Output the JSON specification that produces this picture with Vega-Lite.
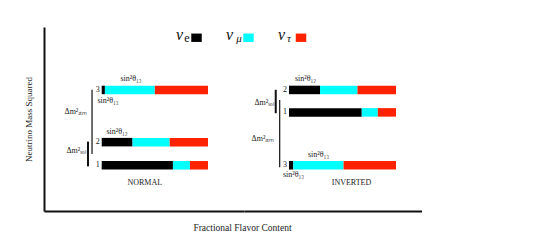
{
  "$schema": "https://vega.github.io/schema/vega-lite/v6.json",
  "padding": {"left": 24, "top": 27, "right": 0, "bottom": 0},
  "bounds": "flush",
  "spacing": 0,
  "config": {
    "view": {"stroke": null},
    "font": "Liberation Serif",
    "text": {"font": "Liberation Serif", "fontSize": 8, "color": "#222"}
  },
  "datasets": {
    "bars": [
      {"h": "NORMAL", "state": "3", "m2": 0.667, "flavor": "e", "frac": 0.03},
      {"h": "NORMAL", "state": "3", "m2": 0.667, "flavor": "mu", "frac": 0.47},
      {"h": "NORMAL", "state": "3", "m2": 0.667, "flavor": "tau", "frac": 0.5},
      {"h": "NORMAL", "state": "2", "m2": 0.367, "flavor": "e", "frac": 0.29},
      {"h": "NORMAL", "state": "2", "m2": 0.367, "flavor": "mu", "frac": 0.35},
      {"h": "NORMAL", "state": "2", "m2": 0.367, "flavor": "tau", "frac": 0.36},
      {"h": "NORMAL", "state": "1", "m2": 0.234, "flavor": "e", "frac": 0.67},
      {"h": "NORMAL", "state": "1", "m2": 0.234, "flavor": "mu", "frac": 0.16},
      {"h": "NORMAL", "state": "1", "m2": 0.234, "flavor": "tau", "frac": 0.17},
      {"h": "INVERTED", "state": "2", "m2": 0.667, "flavor": "e", "frac": 0.29},
      {"h": "INVERTED", "state": "2", "m2": 0.667, "flavor": "mu", "frac": 0.35},
      {"h": "INVERTED", "state": "2", "m2": 0.667, "flavor": "tau", "frac": 0.36},
      {"h": "INVERTED", "state": "1", "m2": 0.538, "flavor": "e", "frac": 0.68},
      {"h": "INVERTED", "state": "1", "m2": 0.538, "flavor": "mu", "frac": 0.15},
      {"h": "INVERTED", "state": "1", "m2": 0.538, "flavor": "tau", "frac": 0.17},
      {"h": "INVERTED", "state": "3", "m2": 0.234, "flavor": "e", "frac": 0.04},
      {"h": "INVERTED", "state": "3", "m2": 0.234, "flavor": "mu", "frac": 0.47},
      {"h": "INVERTED", "state": "3", "m2": 0.234, "flavor": "tau", "frac": 0.49}
    ],
    "ann": [
      {"h": "NORMAL", "label": "sin²θ₁₃", "x": 0.276, "y": 0.728},
      {"h": "NORMAL", "label": "sin²θ₁₃", "x": 0.06, "y": 0.603},
      {"h": "NORMAL", "label": "sin²θ₁₂", "x": 0.144, "y": 0.424},
      {"h": "NORMAL", "label": "Δm²ₐₜₘ", "x": -0.242, "y": 0.538},
      {"h": "NORMAL", "label": "Δm²ₛₒₗ", "x": -0.242, "y": 0.315},
      {"h": "NORMAL", "label": "NORMAL", "x": 0.405, "y": 0.13},
      {"h": "INVERTED", "label": "sin²θ₁₂", "x": 0.154, "y": 0.728},
      {"h": "INVERTED", "label": "Δm²ₛₒₗ", "x": -0.234, "y": 0.592},
      {"h": "INVERTED", "label": "Δm²ₐₜₘ", "x": -0.243, "y": 0.386},
      {"h": "INVERTED", "label": "sin²θ₁₃", "x": 0.276, "y": 0.293},
      {"h": "INVERTED", "label": "sin²θ₁₃", "x": 0.042, "y": 0.179},
      {"h": "INVERTED", "label": "INVERTED", "x": 0.584, "y": 0.13}
    ],
    "brackets": [
      {"h": "NORMAL", "kind": "atm", "x": -0.091, "y": 0.668, "y2": 0.299},
      {"h": "NORMAL", "kind": "sol", "x": -0.129, "y": 0.37, "y2": 0.228},
      {"h": "INVERTED", "kind": "sol", "x": -0.124, "y": 0.668, "y2": 0.533},
      {"h": "INVERTED", "kind": "atm", "x": -0.087, "y": 0.609, "y2": 0.223}
    ],
    "legSq": [
      {"flavor": "e", "x": 0.892, "y": 0.967},
      {"flavor": "mu", "x": 1.381, "y": 0.967},
      {"flavor": "tau", "x": 1.875, "y": 0.967}
    ],
    "legNu": [
      {"label": "ν", "x": 0.699, "y": 0.954},
      {"label": "ν", "x": 1.169, "y": 0.954},
      {"label": "ν", "x": 1.659, "y": 0.954}
    ],
    "legSub": [
      {"label": "e", "style": "normal", "x": 0.776, "y": 0.943},
      {"label": "μ", "style": "italic", "x": 1.266, "y": 0.943},
      {"label": "τ", "style": "italic", "x": 1.743, "y": 0.943}
    ]
  },
  "hconcat": [
    {
      "width": 200,
      "height": 184,
      "layer": [
        {
          "data": {"name": "bars"},
          "transform": [
            {"filter": "datum.h === 'NORMAL'"},
            {"stack": "frac", "groupby": ["state"], "sort": [{"field": "flavor"}], "as": ["x0", "x1"]}
          ],
          "mark": {"type": "bar", "size": 8.5},
          "encoding": {
            "x": {
              "field": "x0", "type": "quantitative",
              "scale": {"domain": [-0.5428, 1.3387], "nice": false, "zero": false},
              "axis": {
                "domain": true, "domainColor": "#111", "domainWidth": 2,
                "ticks": false, "labels": false, "grid": false,
                "title": "Fractional Flavor Content",
                "titleFont": "Liberation Serif", "titleFontSize": 9.5, "titleFontWeight": "normal",
                "titleColor": "#222", "titleX": 198, "titleY": 11, "titleAlign": "center", "titleBaseline": "top"
              }
            },
            "x2": {"field": "x1"},
            "y": {
              "field": "m2", "type": "quantitative",
              "scale": {"domain": [0, 1], "nice": false, "zero": false},
              "axis": {
                "domain": true, "domainColor": "#111", "domainWidth": 2,
                "ticks": false, "labels": false, "grid": false,
                "title": "Neutrino Mass Squared",
                "titleFont": "Liberation Serif", "titleFontSize": 9, "titleFontWeight": "normal",
                "titleColor": "#222", "titlePadding": 11
              }
            },
            "color": {
              "field": "flavor", "type": "nominal",
              "scale": {"domain": ["e", "mu", "tau"], "range": ["#000000", "#00FFFF", "#FF2200"]},
              "legend": null
            }
          }
        },
        {
          "data": {"name": "bars"},
          "transform": [{"filter": "datum.h === 'NORMAL' && datum.flavor === 'e'"}],
          "mark": {"type": "text", "align": "right", "baseline": "middle", "dx": -2},
          "encoding": {
            "x": {"datum": 0, "type": "quantitative"},
            "y": {"field": "m2", "type": "quantitative"},
            "text": {"field": "state"}
          }
        },
        {
          "data": {"name": "ann"},
          "transform": [{"filter": "datum.h === 'NORMAL'"}],
          "mark": {"type": "text", "align": "center", "baseline": "middle"},
          "encoding": {
            "x": {"field": "x", "type": "quantitative"},
            "y": {"field": "y", "type": "quantitative"},
            "text": {"field": "label"}
          }
        },
        {
          "data": {"name": "brackets"},
          "transform": [{"filter": "datum.h === 'NORMAL'"}],
          "mark": {"type": "rule", "color": "#111"},
          "encoding": {
            "x": {"field": "x", "type": "quantitative"},
            "y": {"field": "y", "type": "quantitative"},
            "y2": {"field": "y2"},
            "strokeWidth": {"field": "kind", "type": "nominal", "scale": {"domain": ["sol", "atm"], "range": [2, 1.2]}, "legend": null}
          }
        },
        {
          "data": {"name": "legSq"},
          "mark": {"type": "point", "shape": "M-1,-0.8H1V0.8H-1Z", "filled": true, "opacity": 1, "size": 110},
          "encoding": {
            "x": {"field": "x", "type": "quantitative"},
            "y": {"field": "y", "type": "quantitative"},
            "color": {"field": "flavor", "type": "nominal", "legend": null}
          }
        },
        {
          "data": {"name": "legNu"},
          "mark": {"type": "text", "align": "left", "baseline": "alphabetic", "fontSize": 16, "fontStyle": "italic", "color": "#111"},
          "encoding": {
            "x": {"field": "x", "type": "quantitative"},
            "y": {"field": "y", "type": "quantitative"},
            "text": {"field": "label"}
          }
        },
        {
          "data": {"name": "legSub"},
          "transform": [{"filter": "datum.style === 'normal'"}],
          "mark": {"type": "text", "align": "left", "baseline": "alphabetic", "fontSize": 12, "color": "#111"},
          "encoding": {
            "x": {"field": "x", "type": "quantitative"},
            "y": {"field": "y", "type": "quantitative"},
            "text": {"field": "label"}
          }
        },
        {
          "data": {"name": "legSub"},
          "transform": [{"filter": "datum.style === 'italic'"}],
          "mark": {"type": "text", "align": "left", "baseline": "alphabetic", "fontSize": 11, "fontStyle": "italic", "color": "#111"},
          "encoding": {
            "x": {"field": "x", "type": "quantitative"},
            "y": {"field": "y", "type": "quantitative"},
            "text": {"field": "label"}
          }
        }
      ]
    },
    {
      "width": 178,
      "height": 184,
      "layer": [
        {
          "data": {"name": "bars"},
          "transform": [
            {"filter": "datum.h === 'INVERTED'"},
            {"stack": "frac", "groupby": ["state"], "sort": [{"field": "flavor"}], "as": ["x0", "x1"]}
          ],
          "mark": {"type": "bar", "size": 8.5},
          "encoding": {
            "x": {
              "field": "x0", "type": "quantitative",
              "scale": {"domain": [-0.4206, 1.243], "nice": false, "zero": false},
              "axis": {
                "domain": true, "domainColor": "#111", "domainWidth": 2,
                "ticks": false, "labels": false, "grid": false, "title": null
              }
            },
            "x2": {"field": "x1"},
            "y": {
              "field": "m2", "type": "quantitative",
              "scale": {"domain": [0, 1], "nice": false, "zero": false},
              "axis": null
            },
            "color": {
              "field": "flavor", "type": "nominal",
              "scale": {"domain": ["e", "mu", "tau"], "range": ["#000000", "#00FFFF", "#FF2200"]},
              "legend": null
            }
          }
        },
        {
          "data": {"name": "bars"},
          "transform": [{"filter": "datum.h === 'INVERTED' && datum.flavor === 'e'"}],
          "mark": {"type": "text", "align": "right", "baseline": "middle", "dx": -2},
          "encoding": {
            "x": {"datum": 0, "type": "quantitative"},
            "y": {"field": "m2", "type": "quantitative"},
            "text": {"field": "state"}
          }
        },
        {
          "data": {"name": "ann"},
          "transform": [{"filter": "datum.h === 'INVERTED'"}],
          "mark": {"type": "text", "align": "center", "baseline": "middle"},
          "encoding": {
            "x": {"field": "x", "type": "quantitative"},
            "y": {"field": "y", "type": "quantitative"},
            "text": {"field": "label"}
          }
        },
        {
          "data": {"name": "brackets"},
          "transform": [{"filter": "datum.h === 'INVERTED'"}],
          "mark": {"type": "rule", "color": "#111"},
          "encoding": {
            "x": {"field": "x", "type": "quantitative"},
            "y": {"field": "y", "type": "quantitative"},
            "y2": {"field": "y2"},
            "strokeWidth": {"field": "kind", "type": "nominal", "scale": {"domain": ["sol", "atm"], "range": [2, 1.2]}, "legend": null}
          }
        }
      ]
    }
  ]
}
